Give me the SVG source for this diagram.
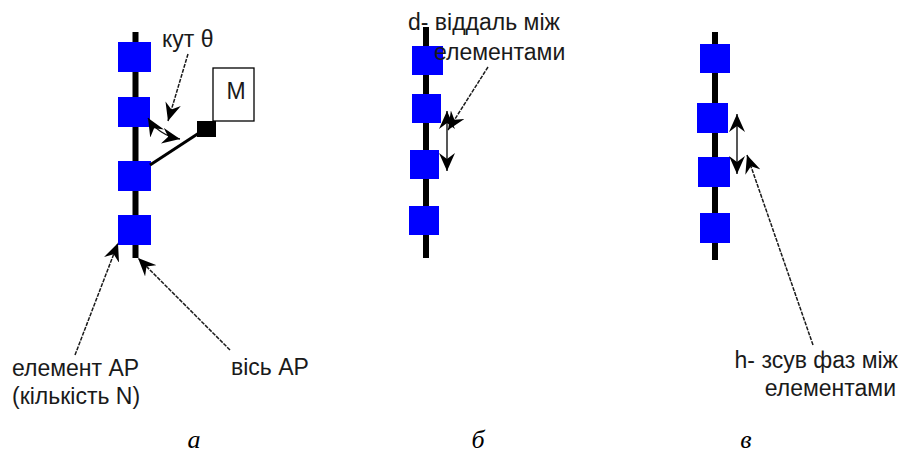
<svg xmlns="http://www.w3.org/2000/svg" width="903" height="455" viewBox="0 0 903 455">
<style>
  .axis{stroke:#000;stroke-width:6;fill:none}
  .el{fill:#0000ff}
  .ptr{stroke:#1a1a1a;stroke-width:1.5;stroke-dasharray:4 1.2;fill:none;marker-end:url(#ah)}
  .dbl{stroke:#111;stroke-width:1.4;fill:none;marker-start:url(#ah2);marker-end:url(#ah2)}
  .lbl{font-family:"Liberation Sans",Arial,sans-serif;font-size:23px;fill:#1a1a1a}
  .cap{font-family:"Liberation Serif","Times New Roman",serif;font-style:italic;font-size:26px;fill:#000}
</style>
<defs>
  <marker id="ah" markerUnits="userSpaceOnUse" markerWidth="20" markerHeight="16" refX="18" refY="8" orient="auto">
    <path d="M0,0 L18,8 L0,16 L6,8 z" fill="#000"/>
  </marker>
  <marker id="ah2" markerUnits="userSpaceOnUse" markerWidth="20" markerHeight="16" refX="18" refY="8" orient="auto-start-reverse">
    <path d="M0,0 L18,8 L0,16 L6,8 z" fill="#000"/>
  </marker>
</defs>
<rect width="903" height="455" fill="#fff"/>

<g id="panel-a">
  <g id="a-axis"><line class="axis" x1="135.5" y1="32" x2="135.5" y2="258"/></g>
  <g id="a-el1"><rect class="el" x="118" y="42" width="33" height="30"/></g>
  <g id="a-el2"><rect class="el" x="118" y="97" width="32" height="30"/></g>
  <g id="a-el3"><rect class="el" x="118" y="161" width="33" height="30"/></g>
  <g id="a-el4"><rect class="el" x="118" y="215" width="33" height="30"/></g>
  <g id="a-M">
    <line x1="150" y1="165" x2="199" y2="133" stroke="#000" stroke-width="3"/>
    <rect x="197" y="121" width="19" height="16" fill="#000"/>
    <rect x="213" y="68" width="41" height="53" fill="#fff" stroke="#000" stroke-width="1.3"/>
    <text class="lbl" x="236" y="99" text-anchor="middle">M</text>
  </g>
</g>

<g id="panel-b">
  <g id="b-axis"><line class="axis" x1="426" y1="27" x2="426" y2="258"/></g>
  <g id="b-el1"><rect class="el" x="412" y="46" width="31" height="29"/></g>
  <g id="b-el2"><rect class="el" x="412" y="94" width="29" height="29"/></g>
  <g id="b-el3"><rect class="el" x="410" y="150" width="29" height="29"/></g>
  <g id="b-el4"><rect class="el" x="409" y="206" width="30" height="29"/></g>
</g>

<g id="panel-c">
  <g id="c-axis"><line class="axis" x1="715" y1="32" x2="715" y2="260"/></g>
  <g id="c-el1"><rect class="el" x="700" y="44" width="30" height="29"/></g>
  <g id="c-el2"><rect class="el" x="697" y="103" width="31" height="30"/></g>
  <g id="c-el3"><rect class="el" x="698" y="157" width="32" height="30"/></g>
  <g id="c-el4"><rect class="el" x="700" y="213" width="30" height="30"/></g>
</g>

<g id="connectors">
  <line class="ptr" x1="188" y1="54" x2="168" y2="121"/>
  <path class="dbl" d="M148,118 Q158,135 180,139"/>
  <line class="ptr" x1="75" y1="355" x2="118" y2="243"/>
  <line class="ptr" x1="230" y1="350" x2="138" y2="258"/>
  <line class="dbl" x1="447" y1="111" x2="447" y2="171"/>
  <line class="ptr" x1="488" y1="67" x2="448" y2="130"/>
  <line class="dbl" x1="737" y1="114" x2="737" y2="174"/>
  <line class="ptr" x1="813" y1="345" x2="747" y2="155"/>
</g>

<g id="labels">
  <text class="lbl" x="162" y="47">кут θ</text>
  <text class="lbl" x="12" y="376">елемент АР</text>
  <text class="lbl" x="12" y="404">(кількість N)</text>
  <text class="lbl" x="231" y="375">вісь АР</text>
  <text class="lbl" x="408" y="30">d- віддаль між</text>
  <text class="lbl" x="434" y="60">елементами</text>
  <text class="lbl" x="898" y="368" text-anchor="end">h- зсув фаз між</text>
  <text class="lbl" x="896" y="396" text-anchor="end">елементами</text>
  <text class="cap" x="194" y="448" text-anchor="middle">а</text>
  <text class="cap" x="478" y="448" text-anchor="middle">б</text>
  <text class="cap" x="746" y="448" text-anchor="middle">в</text>
</g>
</svg>
